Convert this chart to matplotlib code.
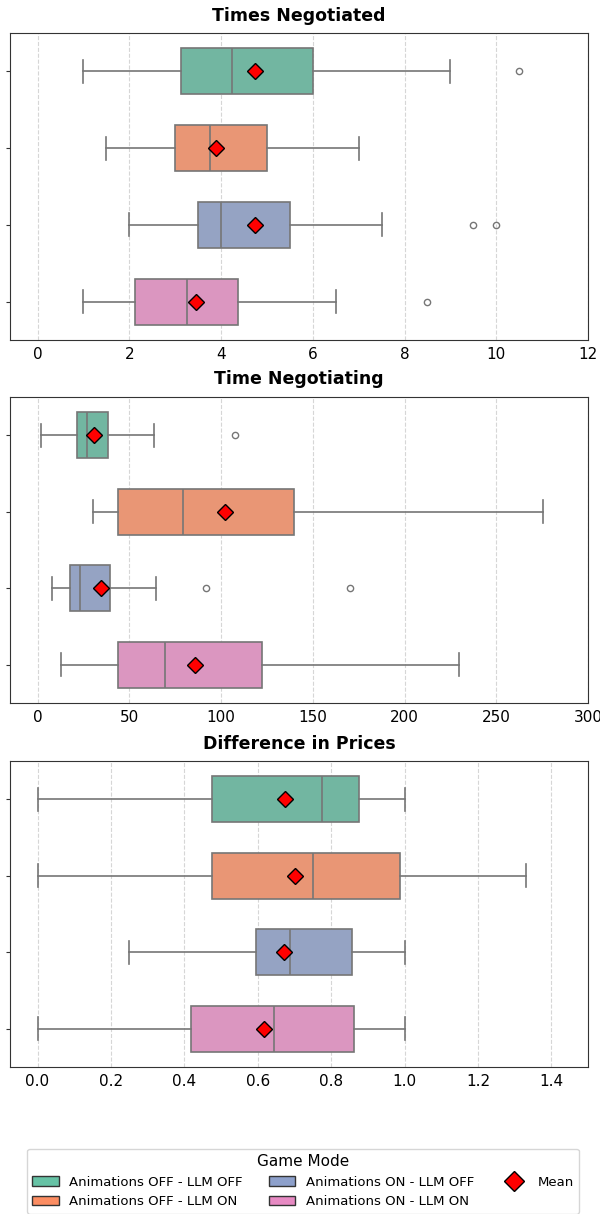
import matplotlib
matplotlib.use("Agg")
import matplotlib.pyplot as plt
from matplotlib.patches import Patch
from matplotlib.lines import Line2D
import seaborn as sns

# ---- data ----
modes = ["Animations OFF - LLM OFF", "Animations OFF - LLM ON",
         "Animations ON - LLM OFF", "Animations ON - LLM ON"]
titles = ["Times Negotiated", "Time Negotiating", "Difference in Prices"]
x_max = [12, 300, 1.5]
x_ticks = [[0, 2, 4, 6, 8, 10, 12],
           [0, 50, 100, 150, 200, 250, 300],
           [0.0, 0.2, 0.4, 0.6, 0.8, 1.0, 1.2, 1.4]]

# Times Negotiated
tn_whislo = [1.0, 1.5, 2.0, 1.0]
tn_q1 = [3.12, 3.0, 3.5, 2.12]
tn_med = [4.25, 3.75, 4.0, 3.25]
tn_q3 = [6.0, 5.0, 5.5, 4.38]
tn_whishi = [9.0, 7.0, 7.5, 6.5]
tn_mean = [4.75, 3.9, 4.75, 3.45]
tn_fliers = [[10.5], [], [9.5, 10.0], [8.5]]

# Time Negotiating
tg_whislo = [1.7, 30.0, 8.0, 13.0]
tg_q1 = [21.4, 43.6, 17.6, 43.6]
tg_med = [27.0, 79.3, 23.1, 69.2]
tg_q3 = [38.6, 139.9, 39.4, 122.3]
tg_whishi = [63.3, 275.6, 64.6, 229.6]
tg_mean = [30.6, 101.9, 34.4, 85.6]
tg_fliers = [[107.6], [], [91.6, 170.5], []]

# Difference in Prices
dp_whislo = [0.0, 0.0, 0.25, 0.0]
dp_q1 = [0.476, 0.476, 0.594, 0.419]
dp_med = [0.774, 0.750, 0.687, 0.645]
dp_q3 = [0.876, 0.989, 0.857, 0.863]
dp_whishi = [1.0, 1.332, 1.0, 1.0]
dp_mean = [0.675, 0.701, 0.671, 0.616]
dp_fliers = [[], [], [], []]

panels = [
    (tn_whislo, tn_q1, tn_med, tn_q3, tn_whishi, tn_mean, tn_fliers),
    (tg_whislo, tg_q1, tg_med, tg_q3, tg_whishi, tg_mean, tg_fliers),
    (dp_whislo, dp_q1, dp_med, dp_q3, dp_whishi, dp_mean, dp_fliers),
]

palette = sns.color_palette("Set2", 4)
box_colors = [sns.desaturate(c, 0.75) for c in palette]
line_col = "#767676"

fig = plt.figure(figsize=(6.0, 12.14), dpi=100)
ax_rects = [
    (0.0167, 0.7199, 0.9633, 0.2529),
    (0.0167, 0.4209, 0.9633, 0.2521),
    (0.0167, 0.1211, 0.9633, 0.2520),
]

for i, (lo, q1, med, q3, hi, mean, fl) in enumerate(panels):
    ax = fig.add_axes(ax_rects[i])
    stats = []
    for j in range(4):
        stats.append(dict(whislo=lo[j], q1=q1[j], med=med[j], q3=q3[j],
                          whishi=hi[j], mean=mean[j], fliers=fl[j],
                          label=modes[j]))
    bp = ax.bxp(stats, positions=range(4), widths=0.6,
                orientation="horizontal", patch_artist=True,
                showmeans=True, showfliers=True,
                boxprops=dict(edgecolor=line_col, linewidth=1.2),
                whiskerprops=dict(color=line_col, linewidth=1.2),
                capprops=dict(color=line_col, linewidth=1.2),
                medianprops=dict(color=line_col, linewidth=1.2),
                meanprops=dict(marker="D", markerfacecolor="red",
                               markeredgecolor="black", markersize=8,
                               markeredgewidth=1.0),
                flierprops=dict(marker="o", markerfacecolor="none",
                                markeredgecolor=line_col, markersize=4.5,
                                markeredgewidth=1.0))
    for patch, c in zip(bp["boxes"], box_colors):
        patch.set_facecolor(c)
    ax.set_ylim(3.5, -0.5)
    ax.set_yticks(range(4))
    ax.set_yticklabels([])
    ax.set_xlim(-0.05 * x_max[i], x_max[i])
    ax.set_xticks(x_ticks[i])
    ax.tick_params(axis="x", length=0, labelsize=11, pad=5)
    ax.tick_params(axis="y", length=3, color="#333333")
    ax.set_axisbelow(True)
    ax.grid(axis="x", linestyle="--", color="#cccccc", alpha=0.8, linewidth=0.8)
    for s in ax.spines.values():
        s.set_color("#333333")
    ax.set_title(titles[i], fontsize=12.5, fontweight="bold", pad=9)

handles = [Patch(facecolor=c, edgecolor="#333333", label=m)
           for c, m in zip(palette, modes)]
handles.append(Line2D([], [], marker="D", linestyle="none",
                      markerfacecolor="red", markeredgecolor="black",
                      markersize=10, label="Mean"))
fig.legend(handles=handles, title="Game Mode", ncol=3, loc="center",
           bbox_to_anchor=(0.505, 0.027), fontsize=9.5, title_fontsize=11,
           frameon=True, edgecolor="#cccccc")

fig.savefig("out.png", dpi=100)
